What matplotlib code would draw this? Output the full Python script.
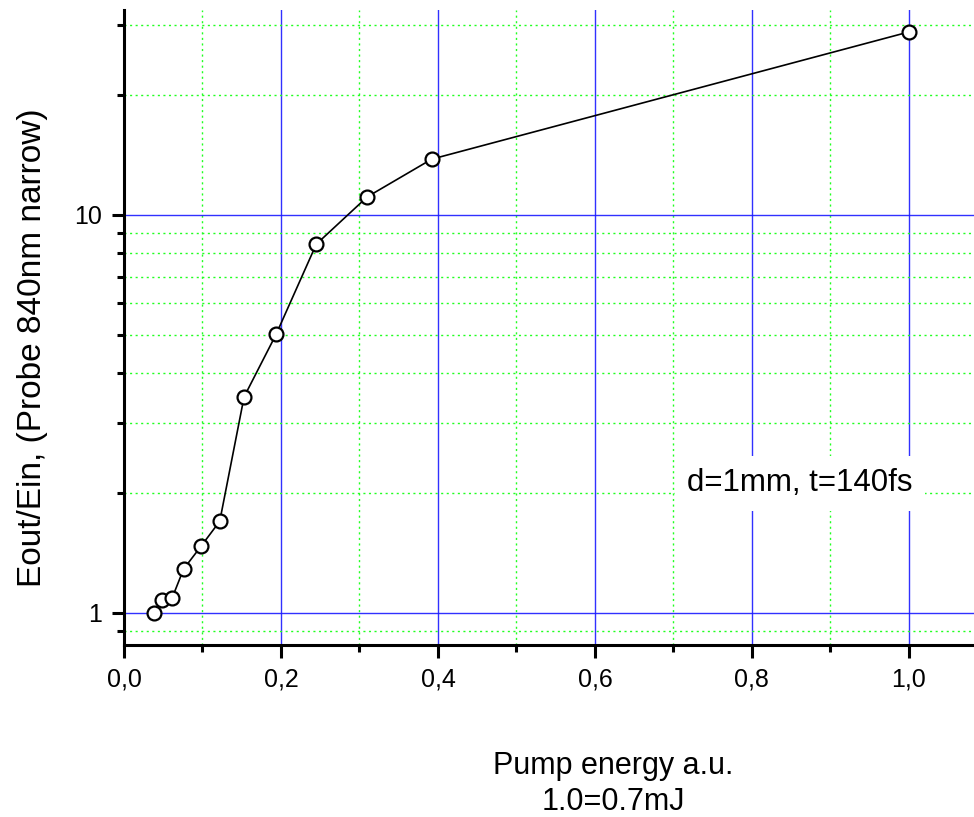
import matplotlib
matplotlib.use("Agg")
import matplotlib.pyplot as plt
from matplotlib.ticker import FixedLocator, NullFormatter, FixedFormatter

plt.rcParams["font.family"] = ["Liberation Sans", "DejaVu Sans"]

# pump energy (a.u., 1.0 = 0.7 mJ) and Eout/Ein
pump = [0.038, 0.048, 0.0615, 0.076, 0.098, 0.122, 0.153, 0.194, 0.245, 0.310, 0.392, 1.0]
gain = [1.00, 1.078, 1.093, 1.29, 1.47, 1.70, 3.49, 5.02, 8.44, 11.1, 13.8, 28.8]

x_major = [0.0, 0.2, 0.4, 0.6, 0.8, 1.0]
x_labels = ["0,0", "0,2", "0,4", "0,6", "0,8", "1,0"]
x_minor = [0.1, 0.3, 0.5, 0.7, 0.9]
y_major = [1, 10]
y_labels = ["1", "10"]
y_minor = [0.9, 2, 3, 4, 5, 6, 7, 8, 9, 20, 30]

fig = plt.figure(figsize=(9.74, 8.17), dpi=100)
ax = fig.add_axes([124 / 974, 172 / 817, 1 - 124 / 974, 635 / 817])

ax.plot(pump, gain, color="black", lw=1.2, marker="o", ms=10,
        mfc="white", mec="black", mew=1.6, zorder=5)

ax.set_yscale("log")
ax.set_xlim(0, 1.083)
ax.set_ylim(0.831, 32.7)

ax.xaxis.set_major_locator(FixedLocator(x_major))
ax.xaxis.set_major_formatter(FixedFormatter(x_labels))
ax.xaxis.set_minor_locator(FixedLocator(x_minor))
ax.yaxis.set_major_locator(FixedLocator(y_major))
ax.yaxis.set_major_formatter(FixedFormatter(y_labels))
ax.yaxis.set_minor_locator(FixedLocator(y_minor))
ax.yaxis.set_minor_formatter(NullFormatter())

ax.grid(which="major", color="#1a1aff", lw=1.0, ls="-", alpha=0.9)
ax.grid(which="minor", color="#22ff22", lw=1.0, ls=(0, (1.5, 2.5)))
ax.set_axisbelow(True)

for s in ("top", "right"):
    ax.spines[s].set_visible(False)
for s in ("left", "bottom"):
    ax.spines[s].set_linewidth(2.2)

ax.tick_params(which="major", direction="out", length=9, width=2.2,
               labelsize=18, pad=7)
ax.tick_params(which="minor", direction="out", length=5, width=2.2)

ax.text(0.861, 2.12, "d=1mm, t=140fs", fontsize=22.5, ha="center", va="center",
        bbox=dict(boxstyle="square,pad=0.4", fc="white", ec="none"), zorder=4)

fig.text(33 / 974, 1 - 348 / 817, "Eout/Ein, (Probe 840nm narrow)",
         rotation=90, fontsize=24, ha="center", va="center")
fig.text(613 / 974, 1 - 774 / 817, "Pump energy a.u.",
         fontsize=22, ha="center", va="baseline")
fig.text(613 / 974, 1 - 810 / 817, "1.0=0.7mJ",
         fontsize=22, ha="center", va="baseline")

fig.savefig("out.png", dpi=100)
